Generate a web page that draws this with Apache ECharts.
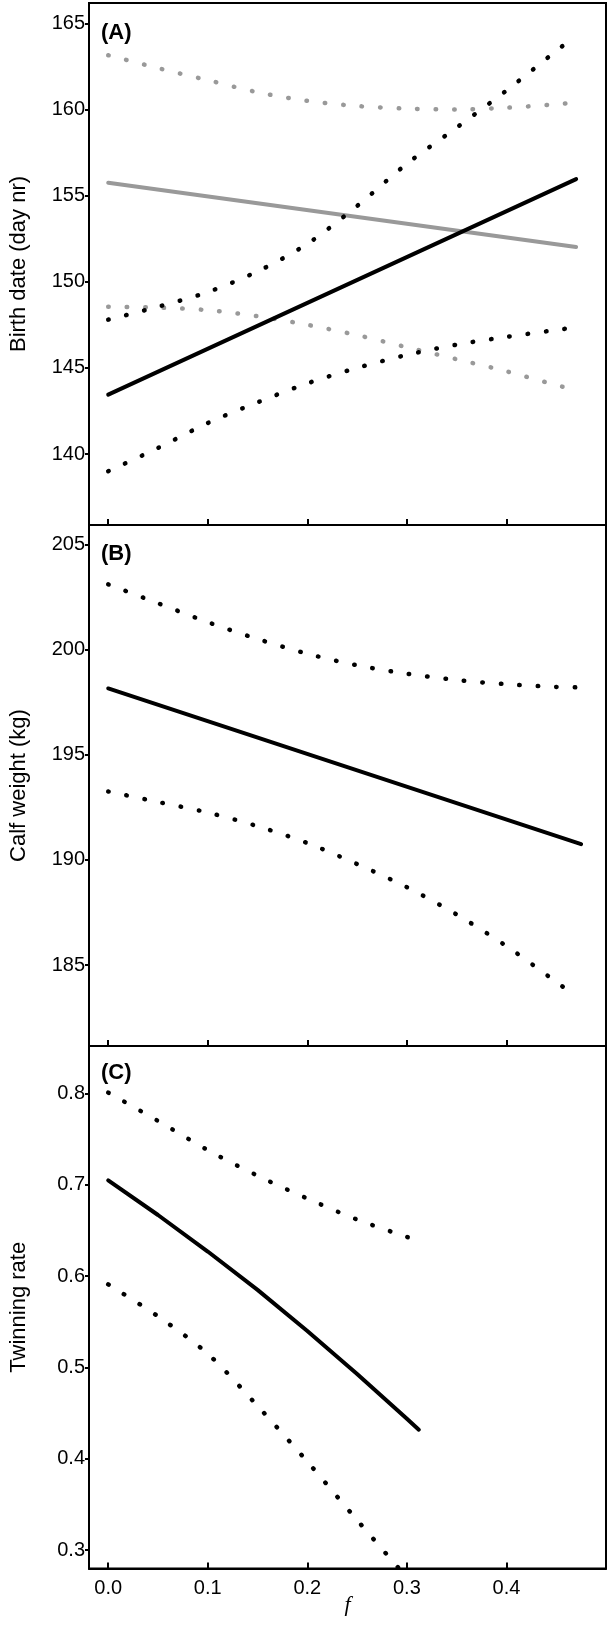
<!DOCTYPE html>
<html>
<head>
<meta charset="utf-8">
<title>Inbreeding effects</title>
<script src="https://cdn.jsdelivr.net/npm/echarts@6/dist/echarts.min.js"></script>
<style>
  html,body{margin:0;padding:0;background:#fff}
  #chart{width:609px;height:1633px}
</style>
</head>
<body>
<div id="chart"></div>
<script>
  // x values (f) for the curves
  var fAB = [0, 0.05, 0.1, 0.15, 0.2, 0.25, 0.3, 0.35, 0.4, 0.45, 0.47];
  var fC = [0, 0.05, 0.1, 0.15, 0.2, 0.25, 0.3, 0.312];
  var fLineA = [0, 0.47];
  var fLineB = [0, 0.475];

  // (A) birth date
  var birthBlack = [143.45, 155.96];
  var birthBlackHi = [147.8, 148.55, 149.4, 150.6, 152.2, 154.4, 156.85, 158.95, 161.1, 163.4, 164.3];
  var birthBlackLo = [139.0, 140.35, 141.8, 143.0, 144.1, 145.0, 145.75, 146.35, 146.8, 147.2, 147.35];
  var birthGrey = [155.75, 152.02];
  var birthGreyHi = [163.15, 162.4, 161.7, 161.0, 160.5, 160.2, 160.05, 160.0, 160.1, 160.3, 160.42];
  var birthGreyLo = [148.55, 148.5, 148.35, 148.0, 147.5, 146.9, 146.2, 145.5, 144.8, 144.0, 143.7];

  // (B) calf weight
  var weight = [198.15, 190.75];
  var weightHi = [203.1, 202.2, 201.3, 200.5, 199.8, 199.25, 198.85, 198.55, 198.35, 198.22, 198.2];
  var weightLo = [193.25, 192.75, 192.25, 191.6, 190.8, 189.8, 188.7, 187.4, 185.9, 184.2, 183.5];

  // (C) twinning rate
  var twin = [0.705, 0.667, 0.627, 0.585, 0.54, 0.493, 0.444, 0.432];
  var twinHi = [0.801, 0.77, 0.738, 0.71, 0.685, 0.662, 0.643, 0.639];
  var twinLo = [0.591, 0.556, 0.515, 0.458, 0.397, 0.333, 0.27, 0.255];

  // tick labels
  var xTicks = [0, 0.1, 0.2, 0.3, 0.4];
  var yTicksA = [140, 145, 150, 155, 160, 165];
  var yTicksB = [185, 190, 195, 200, 205];
  var yTicksC = [0.3, 0.4, 0.5, 0.6, 0.7, 0.8];

  var FONT = 'Liberation Sans, Arial, sans-serif';

  function pairs(xs, ys) {
    return xs.map(function (x, i) { return [x, ys[i]]; });
  }

  function solid(idx, xs, ys, color) {
    return {
      type: 'line', xAxisIndex: idx, yAxisIndex: idx, data: pairs(xs, ys),
      symbol: 'none', silent: true,
      lineStyle: {color: color, width: 4, cap: 'round'}
    };
  }

  // dotted confidence curves: zero-length dashes with round caps
  function dotted(idx, xs, ys, color) {
    return {
      type: 'line', xAxisIndex: idx, yAxisIndex: idx, data: pairs(xs, ys),
      symbol: 'none', silent: true, smooth: 0.3,
      lineStyle: {color: color, width: 4.5, type: [0.5, 18], cap: 'round'}
    };
  }

  // one x axis per panel, labels only at the bottom
  function xAxis(idx, last) {
    return {
      type: 'value', gridIndex: idx, min: -0.0193, max: 0.5,
      name: last ? 'f' : '', nameLocation: 'middle', nameGap: 26, nameMoveOverlap: false,
      nameTextStyle: {fontFamily: 'Liberation Serif, serif', fontStyle: 'italic', fontSize: 22, color: '#000'},
      axisLine: {show: true, onZero: false, lineStyle: {color: '#000', width: 2}},
      axisTick: {show: true, inside: true, length: 6, lineStyle: {color: '#000', width: 2}, customValues: xTicks},
      axisLabel: {show: last, margin: 10, fontSize: 20, fontFamily: FONT, color: '#000',
        customValues: xTicks, formatter: function (v) { return v.toFixed(1); }},
      splitLine: {show: false}
    };
  }

  function yAxis(idx, name, min, max, ticks, digits) {
    return {
      type: 'value', gridIndex: idx, min: min, max: max,
      name: name, nameLocation: 'middle', nameGap: 59, nameMoveOverlap: false,
      nameTextStyle: {fontFamily: FONT, fontSize: 22, color: '#000'},
      axisLine: {show: true, onZero: false, lineStyle: {color: '#000', width: 2}},
      axisTick: {show: true, length: 4, lineStyle: {color: '#000', width: 2}, customValues: ticks},
      axisLabel: {margin: 4, fontSize: 20, fontFamily: FONT, color: '#000',
        customValues: ticks, formatter: function (v) { return v.toFixed(digits); }},
      splitLine: {show: false}
    };
  }

  function panelTitle(text, top) {
    return {text: text, left: 101, top: top, padding: 0,
      textStyle: {fontFamily: FONT, fontSize: 22, fontWeight: 'bold', color: '#000'}};
  }

  var gridBox = {show: true, borderColor: '#000', borderWidth: 2, backgroundColor: 'transparent'};

  var option = {
    animation: false,
    backgroundColor: '#fff',
    title: [panelTitle('(A)', 22), panelTitle('(B)', 543), panelTitle('(C)', 1062)],
    grid: [
      Object.assign({left: 83, top: 3, width: 523, height: 522}, gridBox),
      Object.assign({left: 83, top: 525, width: 523, height: 521}, gridBox),
      Object.assign({left: 83, top: 1046, width: 523, height: 522.5}, gridBox)
    ],
    xAxis: [xAxis(0, false), xAxis(1, false), xAxis(2, true)],
    yAxis: [
      yAxis(0, 'Birth date (day nr)', 135.88, 166.18, yTicksA, 0),
      yAxis(1, 'Calf weight (kg)', 181.15, 205.92, yTicksB, 0),
      yAxis(2, 'Twinning rate', 0.28, 0.852, yTicksC, 1)
    ],
    series: [
      dotted(0, fAB, birthGreyHi, '#999999'),
      dotted(0, fAB, birthGreyLo, '#999999'),
      solid(0, fLineA, birthGrey, '#999999'),
      dotted(0, fAB, birthBlackHi, '#000'),
      dotted(0, fAB, birthBlackLo, '#000'),
      solid(0, fLineA, birthBlack, '#000'),

      dotted(1, fAB, weightHi, '#000'),
      dotted(1, fAB, weightLo, '#000'),
      solid(1, fLineB, weight, '#000'),

      dotted(2, fC, twinHi, '#000'),
      dotted(2, fC, twinLo, '#000'),
      solid(2, fC, twin, '#000')
    ]
  };

  var chartObj = echarts.init(document.getElementById('chart'), null, {renderer: 'canvas'});
  chartObj.setOption(option);
</script>
</body>
</html>
